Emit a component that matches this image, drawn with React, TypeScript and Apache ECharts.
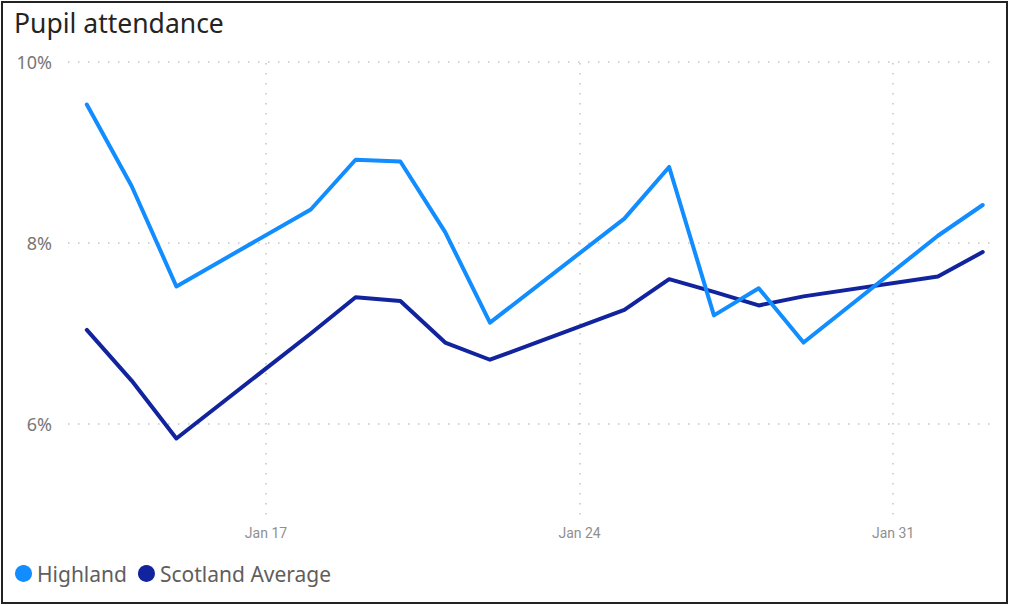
import React, { useEffect, useRef } from "react";
import * as echarts from "echarts";

const dates = [
  "2021-01-13", "2021-01-14", "2021-01-15", "2021-01-18", "2021-01-19",
  "2021-01-20", "2021-01-21", "2021-01-22", "2021-01-25", "2021-01-26",
  "2021-01-27", "2021-01-28", "2021-01-29", "2021-02-01", "2021-02-02",
];
const highland = [9.53, 8.63, 7.52, 8.37, 8.92, 8.9, 8.12, 7.12, 8.27, 8.84, 7.2, 7.5, 6.9, 8.08, 8.42];
const scotland = [7.04, 6.48, 5.84, 7.0, 7.4, 7.36, 6.9, 6.71, 7.26, 7.6, 7.46, 7.31, 7.41, 7.63, 7.9];
const tickDates = ["2021-01-17", "2021-01-24", "2021-01-31"];
const yTicks = [6, 8, 10];
const seriesNames = ["Highland", "Scotland Average"];
const colors = ["#118DFF", "#12239E"];
const months = ["Jan", "Feb", "Mar", "Apr", "May", "Jun", "Jul", "Aug", "Sep", "Oct", "Nov", "Dec"];

const BASE = Date.UTC(2021, 0, 0);
const dayNum = (s: string) => {
  const [y, m, d] = s.split("-").map(Number);
  return (Date.UTC(y, m - 1, d) - BASE) / 86400000;
};
const dayLabel = (v: number) => {
  const dt = new Date(BASE + Math.round(v) * 86400000);
  return months[dt.getUTCMonth()] + " " + dt.getUTCDate();
};

export default function App() {
  const ref = useRef<HTMLDivElement>(null);
  useEffect(() => {
    if (!ref.current) return;
    const chart = echarts.init(ref.current, undefined, { renderer: "svg" });
    const xs = dates.map(dayNum);
    const ticks = tickDates.map(dayNum);
    const gridStyle = { type: [1.5, 8.5] as any, color: "#c4c4c4", width: 1.5 };
    chart.setOption({
      animation: false,
      backgroundColor: "#fff",
      title: {
        text: "Pupil attendance",
        left: 9,
        top: 4,
        textStyle: { fontFamily: "Noto Sans", fontSize: 26.5, fontWeight: "normal", color: "#252423" },
      },
      legend: {
        left: 10,
        top: 558,
        icon: "circle",
        itemWidth: 17,
        itemHeight: 17,
        itemGap: 11,
        data: seriesNames,
        textStyle: { fontFamily: "Noto Sans", fontSize: 21, color: "#605E5C" },
      },
      grid: { left: 68, right: 18, top: 62, bottom: 91.5, containLabel: false },
      xAxis: {
        type: "value",
        min: 12.58,
        max: 33.23,
        axisLine: { show: false },
        axisTick: { show: false },
        splitLine: { show: false },
        axisLabel: {
          customValues: ticks,
          formatter: (v: number) => dayLabel(v),
          fontFamily: "Roboto",
          fontSize: 14,
          color: "#8f8f8f",
          margin: 11,
        },
      },
      yAxis: {
        type: "value",
        min: 5,
        max: 10,
        axisLine: { show: false },
        axisTick: { show: false },
        splitLine: { show: false },
        axisLabel: {
          customValues: yTicks,
          formatter: (v: number) => v + "%",
          fontFamily: "Noto Sans",
          fontSize: 18,
          color: "#777",
          margin: 16,
        },
      },
      series: [
        {
          name: seriesNames[0],
          type: "line",
          data: xs.map((x, i) => [x, highland[i]]),
          showSymbol: false,
          symbol: "circle",
          color: colors[0],
          lineStyle: { width: 4, color: colors[0], cap: "round", join: "round" },
          z: 3,
          markLine: {
            silent: true,
            symbol: ["none", "none"],
            label: { show: false },
            lineStyle: gridStyle,
            z: 1,
            data: [
              ...ticks.map((t) => ({ xAxis: t })),
              ...yTicks.map((t) => ({ yAxis: t })),
            ],
          },
        },
        {
          name: seriesNames[1],
          type: "line",
          data: xs.map((x, i) => [x, scotland[i]]),
          showSymbol: false,
          symbol: "circle",
          color: colors[1],
          lineStyle: { width: 4, color: colors[1], cap: "round", join: "round" },
          z: 2,
        },
      ],
      graphic: [
        {
          type: "rect",
          shape: { x: 2, y: 2, width: 1005, height: 601 },
          style: { fill: "none", stroke: "#222", lineWidth: 2 },
          silent: true,
        },
      ],
    });
    return () => chart.dispose();
  }, []);
  return (
    <div
      ref={ref}
      style={{ position: "fixed", left: 0, top: 0, width: 1011, height: 606 }}
    />
  );
}
